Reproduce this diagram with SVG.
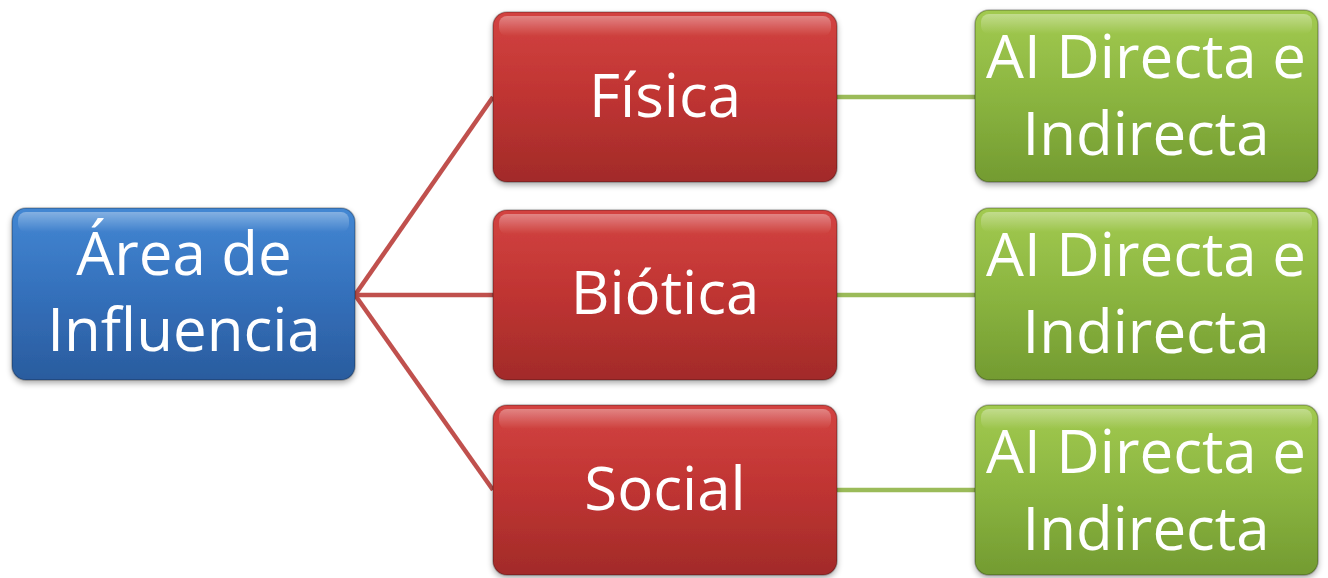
<svg xmlns="http://www.w3.org/2000/svg" width="1328" height="578" viewBox="0 0 1328 578">
<defs>
<linearGradient id="gBlue" x1="0" y1="0" x2="0" y2="1"><stop offset="0" stop-color="#4387d3"/><stop offset="0.5" stop-color="#3470bb"/><stop offset="1" stop-color="#2a5c9e"/></linearGradient>
<linearGradient id="gRed" x1="0" y1="0" x2="0" y2="1"><stop offset="0" stop-color="#d34341"/><stop offset="0.5" stop-color="#bf3432"/><stop offset="1" stop-color="#a22b29"/></linearGradient>
<linearGradient id="gGreen" x1="0" y1="0" x2="0" y2="1"><stop offset="0" stop-color="#a2ca50"/><stop offset="0.5" stop-color="#8bb540"/><stop offset="1" stop-color="#739b31"/></linearGradient>
<linearGradient id="gloss" x1="0" y1="0" x2="0" y2="1"><stop offset="0" stop-color="#fff" stop-opacity="0.35"/><stop offset="1" stop-color="#fff" stop-opacity="0"/></linearGradient>
<filter id="sh" x="-10%" y="-10%" width="120%" height="130%"><feGaussianBlur in="SourceAlpha" stdDeviation="3"/><feOffset dy="3"/><feComponentTransfer><feFuncA type="linear" slope="0.35"/></feComponentTransfer><feMerge><feMergeNode/><feMergeNode in="SourceGraphic"/></feMerge></filter>
</defs>
<style>
.t{font-family:"Open Sans","Noto Sans",sans-serif;font-size:60px;fill:#fff;text-anchor:middle}
.box{filter:url(#sh)}
.hl{fill:url(#gloss)}
.edge{stroke:rgba(0,0,0,0.25);stroke-width:1.5;fill:none}
.cr{stroke:#c0504d;stroke-width:4.5;fill:none}
.cg{stroke:#9bbb59;stroke-width:4.5;fill:none}
</style>
<rect width="1328" height="578" fill="#fff"/>
<g id="connectors">
<path class="cr" d="M355 295 L493 97"/>
<path class="cr" d="M355 295 L493 295"/>
<path class="cr" d="M355 295 L493 490"/>
<path class="cg" d="M837 97 L975 97"/>
<path class="cg" d="M837 295 L975 295"/>
<path class="cg" d="M837 490 L975 490"/>
</g>
<g id="area">
<rect class="box" x="12" y="208" width="343" height="172" rx="14" fill="url(#gBlue)"/>
<rect class="hl" x="18" y="212" width="331" height="20" rx="8"/>
<rect class="edge" x="12" y="208" width="343" height="172" rx="14"/>
<text class="t" x="184" y="275">Área de</text>
<text class="t" x="184" y="351">Influencia</text>
</g>
<g id="fisica">
<rect class="box" x="493" y="12" width="344" height="170" rx="14" fill="url(#gRed)"/>
<rect class="hl" x="499" y="16" width="332" height="20" rx="8"/>
<rect class="edge" x="493" y="12" width="344" height="170" rx="14"/>
<text class="t" x="665" y="117">Física</text>
</g>
<g id="biotica">
<rect class="box" x="493" y="210" width="344" height="170" rx="14" fill="url(#gRed)"/>
<rect class="hl" x="499" y="214" width="332" height="20" rx="8"/>
<rect class="edge" x="493" y="210" width="344" height="170" rx="14"/>
<text class="t" x="665" y="314">Biótica</text>
</g>
<g id="social">
<rect class="box" x="493" y="405" width="344" height="170" rx="14" fill="url(#gRed)"/>
<rect class="hl" x="499" y="409" width="332" height="20" rx="8"/>
<rect class="edge" x="493" y="405" width="344" height="170" rx="14"/>
<text class="t" x="665" y="510">Social</text>
</g>
<g id="ai1">
<rect class="box" x="975" y="10" width="343" height="172" rx="14" fill="url(#gGreen)"/>
<rect class="hl" x="981" y="14" width="331" height="20" rx="8"/>
<rect class="edge" x="975" y="10" width="343" height="172" rx="14"/>
<text class="t" x="1146" y="78">AI Directa e</text>
<text class="t" x="1146" y="155">Indirecta</text>
</g>
<g id="ai2">
<rect class="box" x="975" y="208" width="343" height="172" rx="14" fill="url(#gGreen)"/>
<rect class="hl" x="981" y="212" width="331" height="20" rx="8"/>
<rect class="edge" x="975" y="208" width="343" height="172" rx="14"/>
<text class="t" x="1146" y="276">AI Directa e</text>
<text class="t" x="1146" y="353">Indirecta</text>
</g>
<g id="ai3">
<rect class="box" x="975" y="405" width="343" height="170" rx="14" fill="url(#gGreen)"/>
<rect class="hl" x="981" y="409" width="331" height="20" rx="8"/>
<rect class="edge" x="975" y="405" width="343" height="170" rx="14"/>
<text class="t" x="1146" y="473">AI Directa e</text>
<text class="t" x="1146" y="550">Indirecta</text>
</g>
</svg>
